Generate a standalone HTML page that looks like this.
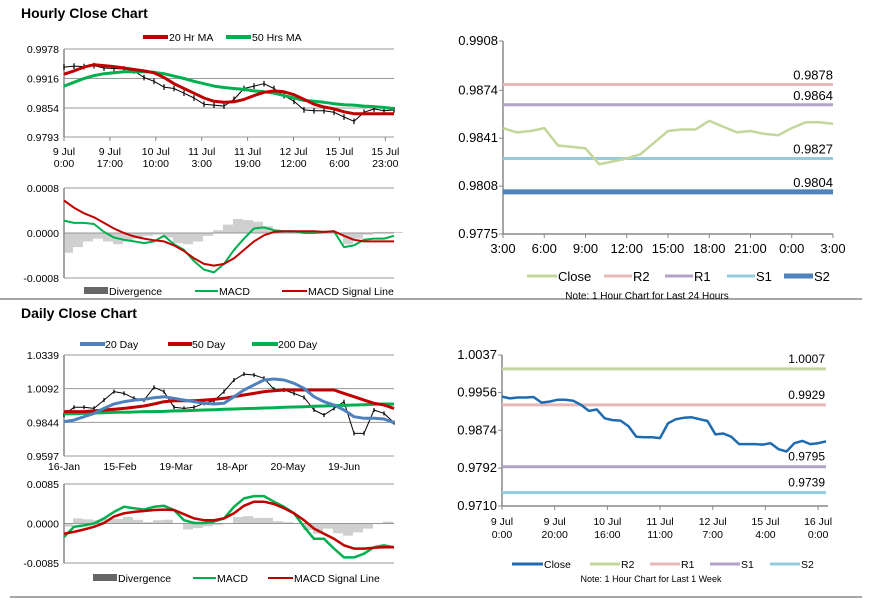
<!DOCTYPE html>
<html><head><meta charset="utf-8"><style>
body{margin:0;background:#fff;}
svg{display:block;font-family:"Liberation Sans",sans-serif;}
.t{font-size:10.5px;fill:#000;}
.n{font-size:13px;fill:#000;font-family:"Liberation Sans Narrow","Liberation Sans",sans-serif;}
</style></head><body>
<svg id="s" width="873" height="601" viewBox="0 0 873 601" xmlns="http://www.w3.org/2000/svg">
<text x="21" y="18" font-size="14" font-weight="bold">Hourly Close Chart</text>
<text x="21" y="318" font-size="14" font-weight="bold">Daily Close Chart</text>
<line x1="0" y1="299" x2="862" y2="299" stroke="#888" stroke-width="1.5"/>
<line x1="10" y1="597" x2="862" y2="597" stroke="#888" stroke-width="1.5"/>
<g>
<line x1="143" y1="37" x2="168" y2="37" stroke="#c00000" stroke-width="4"/><text class="t" x="169" y="41">20 Hr MA</text>
<line x1="226" y1="37" x2="251" y2="37" stroke="#00b050" stroke-width="4"/><text class="t" x="252" y="41">50 Hrs MA</text></g>
<g>
<rect x="84" y="287" width="24" height="7" fill="#666"/><text class="t" x="109" y="295">Divergence</text>
<line x1="195" y1="291" x2="218" y2="291" stroke="#00b050" stroke-width="2"/><text class="t" x="219" y="295">MACD</text>
<line x1="282" y1="291" x2="307" y2="291" stroke="#c00000" stroke-width="2"/><text class="t" x="308" y="295">MACD Signal Line</text></g>
<g>
<line x1="527" y1="276" x2="557" y2="276" stroke="#c3d69b" stroke-width="3"/><text class="n" x="558" y="281">Close</text>
<line x1="604" y1="276" x2="632" y2="276" stroke="#e6b9b8" stroke-width="3"/><text class="n" x="633" y="281">R2</text>
<line x1="665" y1="276" x2="693" y2="276" stroke="#b3a2c7" stroke-width="3"/><text class="n" x="694" y="281">R1</text>
<line x1="727" y1="276" x2="755" y2="276" stroke="#93cddd" stroke-width="3"/><text class="n" x="756" y="281">S1</text>
<line x1="784" y1="276" x2="813" y2="276" stroke="#4f81bd" stroke-width="5"/><text class="n" x="814" y="281">S2</text>
<text x="647" y="299" font-size="10" text-anchor="middle">Note: 1 Hour Chart for Last 24 Hours</text></g>
<g>
<line x1="80" y1="344" x2="105" y2="344" stroke="#4f81bd" stroke-width="4"/><text class="t" x="105" y="348">20 Day</text>
<line x1="168" y1="344" x2="192" y2="344" stroke="#c00000" stroke-width="4"/><text class="t" x="192" y="348">50 Day</text>
<line x1="252" y1="344" x2="278" y2="344" stroke="#00b050" stroke-width="4"/><text class="t" x="278" y="348">200 Day</text></g>
<g>
<rect x="93" y="574" width="24" height="7" fill="#666"/><text class="t" x="118" y="582">Divergence</text>
<line x1="193" y1="578" x2="216" y2="578" stroke="#00b050" stroke-width="2"/><text class="t" x="217" y="582">MACD</text>
<line x1="268" y1="578" x2="293" y2="578" stroke="#c00000" stroke-width="2"/><text class="t" x="294" y="582">MACD Signal Line</text></g>
<g>
<line x1="512" y1="564" x2="543" y2="564" stroke="#1f6bb0" stroke-width="3"/><text class="t" x="544" y="568">Close</text>
<line x1="590" y1="564" x2="620" y2="564" stroke="#c3d69b" stroke-width="3"/><text class="t" x="621" y="568">R2</text>
<line x1="650" y1="564" x2="680" y2="564" stroke="#e6b9b8" stroke-width="3"/><text class="t" x="681" y="568">R1</text>
<line x1="710" y1="564" x2="740" y2="564" stroke="#b3a2c7" stroke-width="3"/><text class="t" x="741" y="568">S1</text>
<line x1="770" y1="564" x2="800" y2="564" stroke="#93cddd" stroke-width="3"/><text class="t" x="801" y="568">S2</text>
<text x="651" y="582" font-size="9" text-anchor="middle">Note: 1 Hour Chart for Last 1 Week</text></g>
</svg>
<script>
// ---- Hourly (left) ----
const hCats=["9 Jul|0:00","9 Jul|17:00","10 Jul|10:00","11 Jul|3:00","11 Jul|19:00","12 Jul|12:00","15 Jul|6:00","15 Jul|23:00"];
const hTicks=[0.9978,0.9916,0.9854,0.9793];
const hClose=[.9940,.9942,.9941,.9943,.9938,.9937,.9936,.9932,.9918,.9910,.9898,.9895,.9885,.9875,.9862,.9860,.9858,.9872,.9895,.9900,.9905,.9895,.9880,.9868,.9850,.9848,.9848,.9845,.9835,.9826,.9845,.9852,.9848,.9850];
const hMA20=[.9925,.9932,.9940,.9945,.9943,.9941,.9938,.9935,.9932,.9928,.9918,.9905,.9895,.9885,.9875,.9868,.9866,.9867,.9872,.9880,.9887,.9890,.9888,.9882,.9872,.9862,.9856,.9852,.9846,.9842,.9842,.9842,.9842,.9842];
const hMA50=[.9900,.9908,.9916,.9922,.9926,.9928,.9930,.9930,.9930,.9929,.9926,.9921,.9916,.9910,.9905,.9900,.9897,.9895,.9893,.9890,.9888,.9885,.9880,.9875,.9870,.9868,.9866,.9863,.9861,.9860,.9858,.9857,.9855,.9853];
const hMacdTicks=[0.0008,0,-0.0008];
const hMacd=[2.2,1.8,1.8,1.6,0.2,-0.8,-1.2,-1.5,-1.8,-1.5,-0.5,-2.0,-3.0,-5.0,-6.5,-7.0,-5.5,-3.0,-1.0,0.8,1.0,0.5,0.3,0.3,0.0,0.0,0.2,0.3,-2.5,-2.2,-1.2,-1.0,-1.0,-0.5];
const hSignal=[5.8,4.5,3.5,2.8,1.8,0.8,0.0,-0.6,-1.0,-1.3,-1.5,-2.2,-3.2,-4.5,-5.5,-5.8,-5.5,-4.5,-3.0,-1.5,-0.4,0.2,0.3,0.3,0.3,0.3,0.2,0.3,-0.5,-1.2,-1.5,-1.5,-1.5,-1.5];
const hDiv=[-3.5,-2.5,-1.5,-1.0,-1.5,-2,-1.5,-1,-0.5,-0.3,-0.8,-1.8,-2,-1.5,-0.5,0.5,1.5,2.5,2.3,2.0,1.2,0.5,0.2,0.1,-0.2,-0.2,0.0,0.0,-2.0,-1.0,-0.3,0.2,0.2,0.2];
// ---- Hourly levels (right top) ----
const rCats=["3:00","6:00","9:00","12:00","15:00","18:00","21:00","0:00","3:00"];
const rTicks=[0.9908,0.9874,0.9841,0.9808,0.9775];
const rClose=[.9848,.9845,.9846,.9848,.9836,.9835,.9834,.9823,.9825,.9827,.9830,.9838,.9846,.9847,.9847,.9853,.9849,.9845,.9846,.9844,.9843,.9848,.9852,.9852,.9851];
const rLevelNames=["R2","R1","S1","S2"];
const rLevels=[0.9878,0.9864,0.9827,0.9804];
// ---- Daily (left bottom) ----
const dCats=["16-Jan","15-Feb","19-Mar","18-Apr","20-May","19-Jun"];
const dTicks=[1.0339,1.0092,0.9844,0.9597];
const dClose=[.9898,.9955,.9955,.9947,1.0008,1.0070,1.0057,1.0021,1.0008,1.0101,1.0070,.9955,.9947,.9955,.9984,1.0003,1.0070,1.0155,1.0199,1.0192,1.0168,1.0087,1.0082,1.0057,1.0028,.9935,.9898,.9947,.9996,.9763,.9763,.9935,.9910,.9842];
const d20=[.9849,.9861,.9886,.9910,.9947,.9979,.9996,1.0008,1.0013,1.0025,1.0033,1.0021,1.0008,.9996,.9984,.9979,.9984,1.0033,1.0082,1.0119,1.0155,1.0163,1.0155,1.0131,1.0094,1.0033,.9996,.9972,.9935,.9886,.9874,.9874,.9869,.9842];
const d50=[.9923,.9923,.9923,.9928,.9935,.9940,.9947,.9955,.9964,.9979,.9996,1.0003,1.0003,1.0003,1.0008,1.0013,1.0021,1.0033,1.0045,1.0057,1.0070,1.0077,1.0082,1.0082,1.0082,1.0082,1.0082,1.0082,1.0057,1.0033,1.0008,.9984,.9972,.9947];
const d200=[.9906,.9908,.9910,.9913,.9915,.9918,.9918,.9920,.9923,.9923,.9925,.9928,.9930,.9932,.9935,.9937,.9940,.9942,.9945,.9947,.9950,.9952,.9955,.9957,.9959,.9962,.9964,.9967,.9969,.9972,.9974,.9977,.9979,.9979];
const dMacdTicks=[0.0085,0,-0.0085];
const dMacd=[-29,-7,-4,0,11,25,36,33,30,36,38,29,7,1,1,4,11,36,54,59,59,47,36,22,-7,-33,-33,-54,-73,-73,-65,-51,-47,-51];
const dSignal=[-22,-18,-13,-7,1,15,22,25,27,29,30,29,20,11,7,7,11,22,38,47,47,42,33,22,7,-11,-22,-33,-47,-54,-54,-52,-51,-51];
const dDiv=[-7,11,9,7,10,10,14,8,3,7,8,0,-13,-10,-6,-3,0,14,16,12,12,5,3,0,-14,-22,-11,-21,-26,-19,-11,1,4,0];
// ---- Weekly levels (right bottom) ----
const wCats=["9 Jul|0:00","9 Jul|20:00","10 Jul|16:00","11 Jul|11:00","12 Jul|7:00","15 Jul|4:00","16 Jul|0:00"];
const wTicks=[1.0037,0.9956,0.9874,0.9792,0.9710];
const wClose=[.9947,.9943,.9945,.9945,.9946,.9934,.9936,.9940,.9940,.9938,.9929,.9916,.9919,.9900,.9896,.9895,.9883,.9860,.9859,.9859,.9857,.9889,.9898,.9901,.9902,.9898,.9894,.9865,.9867,.9860,.9844,.9844,.9844,.9843,.9846,.9833,.9828,.9846,.9851,.9844,.9846,.9850];
const wLevelNames=["R2","R1","S1","S2"];
const wLevels=[1.0007,0.9929,0.9795,0.9739];

const NS="http://www.w3.org/2000/svg",svg=document.getElementById('s');
function mk(tag,a,txt){const e=document.createElementNS(NS,tag);for(const k in a)e.setAttribute(k,a[k]);if(txt!==undefined)e.textContent=txt;svg.appendChild(e);return e;}
function lin(d0,d1,r0,r1){return v=>r0+(v-d0)*(r1-r0)/(d1-d0);}
function idxX(n,x0,x1){return i=>x0+i*(x1-x0)/(n-1);}
function path(vals,xf,yf){return vals.map((v,i)=>(i?'L':'M')+xf(i).toFixed(1)+','+yf(v).toFixed(1)).join('');}
function yAxis(ticks,yf,x,grid,x2,dec,name){
  ticks.forEach(t=>{
    if(grid){const g=mk('line',{x1:x,x2:x2,y1:yf(t),y2:yf(t),stroke:'#999','stroke-width':1});
      
      }
    else{const g=mk('line',{x1:x-4,x2:x,y1:yf(t),y2:yf(t),stroke:'#888'});
      
      }
    const l=mk('text',{x:x-5,y:yf(t)+4,'text-anchor':'end',class:grid?'t':'n'},t.toFixed(dec));
    
    
  });
  const ax=mk('line',{x1:x,x2:x,y1:yf(ticks[0]),y2:yf(ticks[ticks.length-1]),stroke:'#888','stroke-width':1.5});
  
  
}
function xLabels(cats,xf,y,name,cls,tick,ty,gap){
  cats.forEach((c,i)=>{
    const parts=c.split('|');
    parts.forEach((p,j)=>{const t=mk('text',{x:xf(i),y:y+j*(gap||13),'text-anchor':'middle',class:cls},p);
      
      });
    if(tick){const k=mk('line',{x1:xf(i),x2:xf(i),y1:ty,y2:ty+4,stroke:'#888'});
      
      }
  });
}
function line(vals,xf,yf,col,w,name){const p=mk('path',{d:path(vals,xf,yf),fill:'none',stroke:col,'stroke-width':w,'stroke-linejoin':'round'});
  
  }
function bars(vals,xf,yf,col,name,spread){vals.forEach((v,i)=>{
  const b=mk('line',{x1:xf(i),x2:xf(i),y1:yf(v-spread),y2:yf(v+spread),stroke:col,'stroke-width':1.2});
  
  });}
function divBars(vals,xf,yf,name){vals.forEach((v,i)=>{
  const x=xf(i);
  for(let k=0;k<5;k++){const b=mk('line',{x1:x+k*2,x2:x+k*2,y1:yf(0),y2:yf(v),stroke:'#888','stroke-width':0.8});
  
  }});}

// Hourly price
{const yf=lin(0.9978,0.9793,49,137),xf=idxX(hClose.length,64,394);
 yAxis(hTicks,yf,64,true,394,4,'hourly-price-y');
 xLabels(hCats,i=>64+i*45.9,155,'hourly-x','t',true,137,12);
 bars(hClose,xf,yf,'#000','hourly-price-bar',0.0006);
 line(hClose,xf,yf,'#000',1,'hourly-close-line');
 line(hMA50,xf,yf,'#00b050',3,'hourly-50hr-ma-line');
 line(hMA20,xf,yf,'#c00000',3,'hourly-20hr-ma-line');}
// Hourly MACD
{const yf=lin(0.0008,-0.0008,188,278),y4=lin(8,-8,188,278),xf=idxX(hMacd.length,64,394);
 yAxis(hMacdTicks,yf,64,true,394,4,'hourly-macd-y');
 divBars(hDiv,xf,y4,'hourly-divergence-bar');
 line(hMacd,xf,y4,'#00b050',2,'hourly-macd-line');
 line(hSignal,xf,y4,'#c00000',2,'hourly-signal-line');}
// Hourly levels
{const yf=lin(0.9908,0.9775,41,234),xf=idxX(rClose.length,503,833);
 const cols=['#e6b9b8','#b3a2c7','#93cddd','#4f81bd'],ws=[3,3,3,5];
 yAxis(rTicks,yf,503,false,0,4,'hourly-levels-y');
 const bx=mk('line',{x1:503,x2:833,y1:234,y2:234,stroke:'#888','stroke-width':1.5});
 
 
 xLabels(rCats,i=>503+i*41.25,253,'hourly-levels-x','n',true,234);
 rLevels.forEach((v,i)=>{line([v,v],j=>503+j*330,yf,cols[i],ws[i],'level-'+rLevelNames[i].toLowerCase()+'-line');
   const t=mk('text',{x:833,y:yf(v)-5,'text-anchor':'end',class:'n'},v.toFixed(4));
   
   });
 line(rClose,xf,yf,'#c3d69b',2.5,'hourly-levels-close-line');}
// Daily price
{const yf=lin(1.0339,0.9597,355,456),xf=idxX(dClose.length,64,394);
 yAxis(dTicks,yf,64,true,394,4,'daily-price-y');
 xLabels(dCats,i=>64+i*56,470,'daily-x','t',false,0);
 bars(dClose,xf,yf,'#000','daily-price-bar',0.0015);
 line(dClose,xf,yf,'#000',1,'daily-close-line');
 line(d200,xf,yf,'#00b050',3,'daily-200-day-line');
 line(d50,xf,yf,'#c00000',3,'daily-50-day-line');
 line(d20,xf,yf,'#4f81bd',3,'daily-20-day-line');}
// Daily MACD
{const yf=lin(0.0085,-0.0085,484,563),y4=lin(85,-85,484,563),xf=idxX(dMacd.length,64,394);
 yAxis(dMacdTicks,yf,64,true,394,4,'daily-macd-y');
 divBars(dDiv,xf,y4,'daily-divergence-bar');
 line(dMacd,xf,y4,'#00b050',2.5,'daily-macd-line');
 line(dSignal,xf,y4,'#c00000',2.5,'daily-signal-line');}
// Weekly levels
{const yf=lin(1.0037,0.9710,355,506),xf=i=>502+i*3*(324/123);
 const cols=['#c3d69b','#e6b9b8','#b3a2c7','#93cddd'];
 yAxis(wTicks,yf,502,false,0,4,'weekly-levels-y');
 const bx=mk('line',{x1:502,x2:828,y1:506,y2:506,stroke:'#888','stroke-width':1.5});
 
 
 xLabels(wCats,i=>502+i*20*(324/123),525,'weekly-levels-x','t',true,506);
 wLevels.forEach((v,i)=>{line([v,v],j=>502+j*324,yf,cols[i],3,'weekly-'+wLevelNames[i].toLowerCase()+'-line');
   const t=mk('text',{x:825,y:yf(v)-6,'text-anchor':'end',class:'t',style:'font-size:12px'},v.toFixed(4));
   
   });
 line(wClose,xf,yf,'#1f6bb0',2.5,'weekly-close-line');}
</script>
</body></html>
